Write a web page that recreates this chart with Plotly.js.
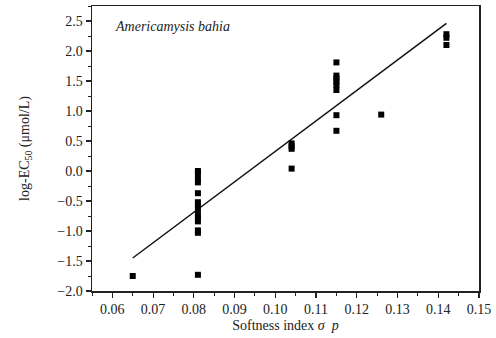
<!DOCTYPE html>
<html><head><meta charset="utf-8">
<script src="https://cdn.plot.ly/plotly-3.0.1.min.js"></script>
<style>html,body{margin:0;padding:0;background:#fff}#c{width:496px;height:338px}</style>
</head><body><div id="c"></div>
<script>
const softness = [0.065,
  0.081,0.081,0.081,0.081,0.081,0.081,0.081,0.081,0.081,0.081,0.081,0.081,0.081,0.081,
  0.104,0.104,0.104,0.104,
  0.115,0.115,0.115,0.115,0.115,0.115,0.115,0.115,
  0.126,
  0.142,0.142,0.142];
const logEC50 = [-1.75,
  0.0,-0.04,-0.13,-0.19,-0.37,-0.52,-0.57,-0.63,-0.72,-0.78,-0.84,-0.99,-1.03,-1.73,
  0.46,0.41,0.37,0.04,
  1.81,1.59,1.54,1.49,1.43,1.35,0.93,0.67,
  0.94,
  2.28,2.22,2.10];
const fitX = [0.065, 0.142];
const fitY = [-1.45, 2.46];
const font = "Liberation Serif, Times New Roman, serif";
const data = [
  {x: fitX, y: fitY, mode:'lines', line:{color:'#111', width:1.5}, hoverinfo:'skip'},
  {x: softness, y: logEC50, mode:'markers', marker:{symbol:'square', size:6, color:'#000'}}
];
const layout = {
  width:496, height:338, showlegend:false,
  margin:{l:92, r:17, t:6, b:47},
  paper_bgcolor:'#fff', plot_bgcolor:'#fff',
  font:{family:font, size:14, color:'#222'},
  xaxis:{range:[0.055,0.15], dtick:0.01, tick0:0.06, tickformat:'.2f',
    showgrid:false, zeroline:false, showline:true, linecolor:'#222', linewidth:1.5, mirror:true,
    ticks:'outside', ticklen:5, tickwidth:1.2, tickcolor:'#222',
    minor:{dtick:0.005, tick0:0.055, ticks:'outside', ticklen:3, tickwidth:1, tickcolor:'#222'},
    title:{text:'Softness index <i>σ</i>  <i>p</i>', font:{family:font, size:14, color:'#222'}, standoff:4}},
  yaxis:{range:[-2,2.75], dtick:0.5, tick0:0, tickformat:'.1f',
    showgrid:false, zeroline:false, showline:true, linecolor:'#222', linewidth:1.5, mirror:true,
    ticks:'outside', ticklen:5, tickwidth:1.2, tickcolor:'#222',
    minor:{dtick:0.25, ticks:'outside', ticklen:3, tickwidth:1, tickcolor:'#222'},
    title:{text:'log-EC<sub>50</sub> (μmol/L)', font:{family:font, size:14, color:'#222'}, standoff:24}},
  annotations:[{x:0.0601, y:2.41, xref:'x', yref:'y', xanchor:'left', yanchor:'middle',
    text:'<i>Americamysis bahia</i>', showarrow:false, font:{family:font, size:14, color:'#222'}}]
};
Plotly.newPlot('c', data, layout, {displayModeBar:false, staticPlot:true});
</script></body></html>
